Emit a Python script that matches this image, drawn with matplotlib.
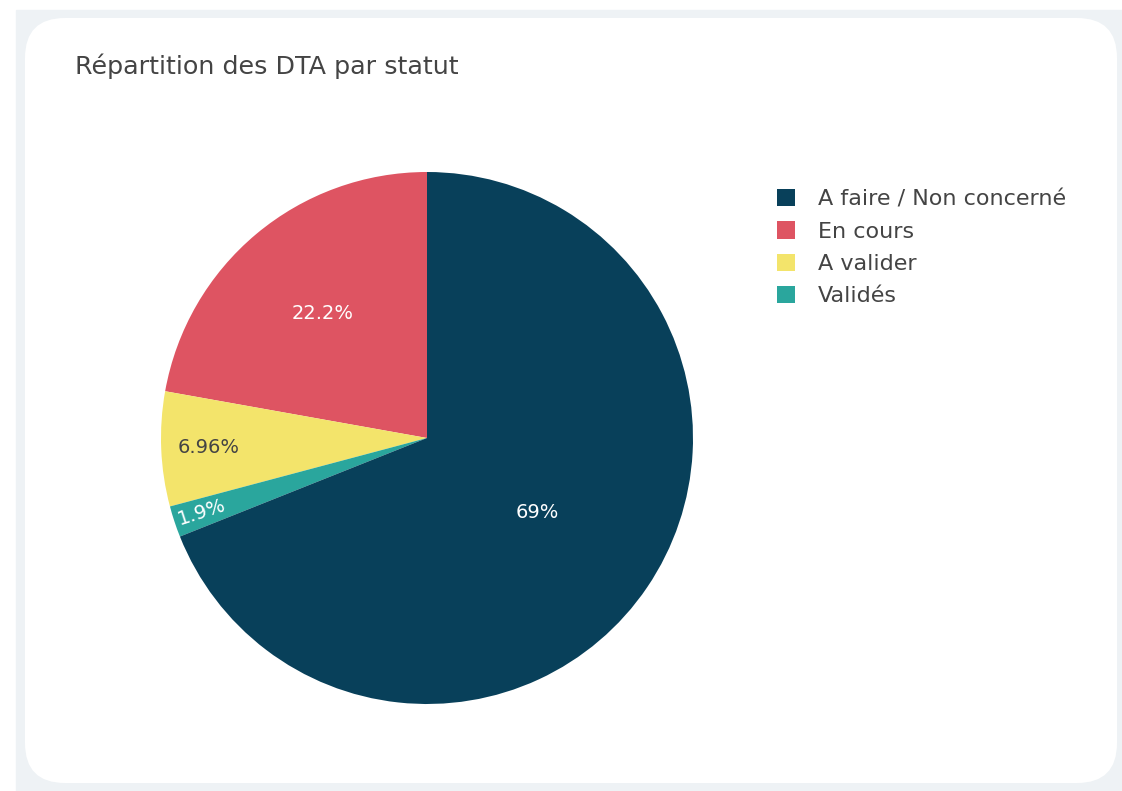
import matplotlib.pyplot as plt
from matplotlib.patches import FancyBboxPatch, Patch
import numpy as np

# data, in drawing order (counterclockwise from the top)
labels = ['En cours', 'A valider', 'Validés', 'A faire / Non concerné']
values = [22.2, 6.96, 1.9, 69.0]
colors = ['#de5462', '#f3e46b', '#2aa69d', '#08405a']
pct_text = ['22.2%', '6.96%', '1.9%', '69%']
legend_order = ['A faire / Non concerné', 'En cours', 'A valider', 'Validés']

W, H = 1122, 791
fig = plt.figure(figsize=(W / 100, H / 100), dpi=100)
ax = fig.add_axes([0, 0, 1, 1])

# page background + card
ax.add_patch(plt.Rectangle((16, 0), W - 16, H - 10, color='#eef2f5', zorder=0))
ax.add_patch(FancyBboxPatch((25 + 40, 8 + 40), 1092 - 80, 765 - 80,
                            boxstyle='round,pad=40', fc='white', ec='none', zorder=1))

fig.text(75 / W, 1 - 66 / H, 'Répartition des DTA par statut', fontsize=18.3,
         color='#444444', va='center', ha='left')

cx, cy, r = 427, H - 438, 266
wedges, _ = ax.pie(values, colors=colors, startangle=90, counterclock=True,
                   center=(cx, cy), radius=r, frame=True,
                   wedgeprops=dict(linewidth=0, zorder=2))
ax.set_xlim(0, W)
ax.set_ylim(0, H)
ax.set_aspect('equal')
ax.axis('off')

dist = [0.61, 0.82, 0.89, 0.50]
txt_col = ['white', '#444444', 'white', 'white']
rot = [0, 0, 18, 0]
for w, t, d, c, ro in zip(wedges, pct_text, dist, txt_col, rot):
    a = np.deg2rad((w.theta1 + w.theta2) / 2)
    ax.text(cx + d * r * np.cos(a), cy + d * r * np.sin(a), t, color=c,
            fontsize=14, ha='center', va='center', rotation=ro, zorder=3)

handles = [Patch(fc=colors[labels.index(l)], ec='none') for l in legend_order]
leg = fig.legend(handles, legend_order, loc='upper left',
                 bbox_to_anchor=(757 / W, 1 - 169 / H), frameon=False,
                 fontsize=16, handlelength=0.81, handleheight=0.81,
                 handletextpad=1.04, labelspacing=0.545, labelcolor='#444444')

fig.savefig('out.png', dpi=100)
